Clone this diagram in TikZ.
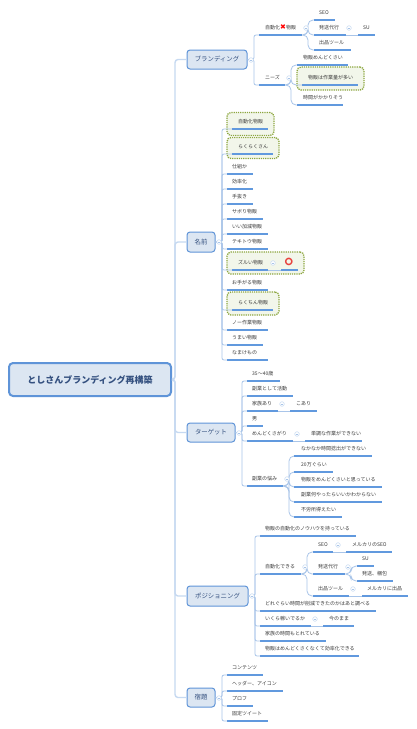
\documentclass[tikz,border=0pt]{standalone}
\usepackage{fontspec}
\setmainfont{Noto Sans CJK JP}
\newfontfamily\emojifont{Noto Emoji}
\newfontfamily\symfont{DejaVu Sans}
\usetikzlibrary{calc}
\definecolor{linkpale}{HTML}{C6D9F1}
\definecolor{linkmid}{HTML}{A9C5E9}
\definecolor{under}{HTML}{6199DE}
\definecolor{boxfill}{HTML}{DCE6F2}
\definecolor{boxline}{HTML}{5F94D8}
\definecolor{titlecol}{HTML}{34507F}
\definecolor{txt}{HTML}{3A3A3A}
\definecolor{hlfill}{HTML}{F2F6EA}
\definecolor{hlline}{HTML}{8CA63E}
\definecolor{ringred}{HTML}{E8433F}
\tikzset{
  x=1pt,y=-1pt,
  rootbox/.style={draw=boxline,fill=boxfill,line width=2pt,rounded corners=4pt,inner sep=0pt,
    font=\fontsize{9}{11}\selectfont\bfseries,text=titlecol},
  branchbox/.style={draw=boxline,fill=boxfill,line width=1pt,rounded corners=3pt,inner sep=0pt,
    font=\fontsize{6.4}{8}\selectfont,text=titlecol},
  leafitem/.style={inner sep=0pt,anchor=south west,minimum height=15pt,
    font=\fontsize{5}{6}\selectfont,text=txt},
  hlbox/.style={draw=hlline,fill=hlfill,line width=1.3pt,dash pattern=on 1.2pt off 1pt,
    rounded corners=4pt,inner sep=0pt},
  trunklink/.style={draw=linkpale,line width=1.4pt,rounded corners=3pt},
  forklink/.style={draw=linkmid,line width=.8pt,rounded corners=2pt},
  sublink/.style={draw=linkmid,line width=.8pt,rounded corners=5pt},
  itemline/.style={draw=under,line width=1.3pt},
  collapsemark/.style={circle,draw=linkpale,fill=white,line width=.5pt,minimum size=4.6pt,inner sep=0pt,
    path picture={\draw[linkmid,line width=.4pt] ([xshift=-1.3pt]path picture bounding box.center) -- ([xshift=1.3pt]path picture bounding box.center);}},
}
% name, x0, x1, yline, text inset, text
\newcommand{\leaf}[6]{%
  \pgfmathsetlengthmacro{\lw}{(#3-#2)*1pt}%
  \node[leafitem,text width=\lw] (#1) at (#2,#4) {\hspace*{#5pt}\mbox{#6}};
  \draw[itemline] (#1.south west) -- (#1.south east);
}
% link from a box to an item, vertical at x
\newcommand{\blink}[3]{\coordinate (vv) at (#2,0);\draw[forklink] (#1.east) -- (#1.east -| vv) |- (#3.south west);}
% link from an underlined item to an item
\newcommand{\slink}[3]{\coordinate (vv) at (#2,0);\draw[sublink] (#1.south east) -- (#1.south east -| vv) |- (#3.south west);}
\newcommand{\cmark}[3]{\node[collapsemark] (#1) at (#2,#3) {};}
\newcommand{\lowtext}[1]{\raisebox{-2.7pt}{#1}}
\begin{document}
\begin{tikzpicture}
\useasboundingbox (0,0) rectangle (417,729);
\fill[white] (0,0) rectangle (417,729);
% highlight boxes
\node[hlbox,minimum width=67pt,minimum height=23pt] (h1) at (330.5,78.5) {};
\node[hlbox,minimum width=47pt,minimum height=23pt] (h2) at (250.5,124) {};
\node[hlbox,minimum width=52pt,minimum height=21pt] (h3) at (253,148) {};
\node[hlbox,minimum width=77pt,minimum height=22pt] (h4) at (265.5,263) {};
\node[hlbox,minimum width=52pt,minimum height=23pt] (h5) at (253,303.5) {};
% root and branches
\node[rootbox,minimum width=162pt,minimum height=33pt] (root) at (90,379.5) {としさんブランディング再構築};
\node[branchbox,minimum width=60pt,minimum height=19pt] (b1) at (217,59.5) {ブランディング};
\node[branchbox,minimum width=28pt,minimum height=20pt] (b2) at (201,242) {名前};
\node[branchbox,minimum width=48pt,minimum height=19pt] (b3) at (211,432.5) {ターゲット};
\node[branchbox,minimum width=61pt,minimum height=20pt] (b4) at (217.5,596) {ポジショニング};
\node[branchbox,minimum width=28pt,minimum height=19pt] (b5) at (201,697.5) {宿題};
\coordinate (tr) at (175,0);
\draw[trunklink] (root.east) -- (root.east -| tr) |- (b1.west);
\draw[trunklink] (root.east) -- (root.east -| tr) |- (b2.west);
\draw[trunklink] (root.east) -- (root.east -| tr) |- (b3.west);
\draw[trunklink] (root.east) -- (root.east -| tr) |- (b4.west);
\draw[trunklink] (root.east) -- (root.east -| tr) |- (b5.west);
% branch 1
\leaf{a1}{259}{302}{35}{6}{自動化{\color{red}\raisebox{-.3pt}{\fontsize{7}{7}\selectfont\symfont ✖}}物販}
\leaf{a2}{259}{285}{85}{6}{ニーズ}
\leaf{a3}{314}{335}{20}{5}{\lowtext{SEO}}
\leaf{a4}{314}{346}{35}{5}{発送代行}
\leaf{a5}{314}{351}{50}{5}{出品ツール}
\leaf{a6}{358}{375}{35}{5}{\lowtext{SU}}
\leaf{a7}{297}{348}{65}{6}{物販めんどくさい}
\leaf{a8}{302}{358}{85}{6}{物販は作業量が多い}
\leaf{a9}{297}{343}{105}{6}{時間がかかりそう}
\blink{b1}{254}{a1}
\blink{b1}{254}{a2}
\slink{a1}{308}{a3}
\slink{a1}{308}{a4}
\slink{a1}{308}{a5}
\draw[forklink] (a4.south east) -- (a6.south west);
\slink{a2}{291}{a7}
\slink{a2}{291}{a8}
\slink{a2}{291}{a9}
% branch 2
\leaf{c1}{232}{268}{129}{6}{自動化物販}
\leaf{c2}{232}{273}{154}{6}{らくらくさん}
\leaf{c3}{227}{253}{174}{5}{仕組か}
\leaf{c4}{227}{253}{189}{5}{効率化}
\leaf{c5}{227}{253}{204}{5}{手抜き}
\leaf{c6}{227}{263}{219}{5}{サボり物販}
\leaf{c7}{227}{268}{234}{5}{いい加減物販}
\leaf{c8}{227}{268}{249}{5}{テキトウ物販}
\leaf{c9}{232}{268}{270}{6}{ズルい物販}
\leaf{c10}{281}{298}{270}{3}{\raisebox{-1.5pt}{\color{ringred}\fontsize{7.5}{8}\selectfont\emojifont ⭕}}
\leaf{c11}{227}{268}{290}{5}{お手がる物販}
\leaf{c12}{232}{273}{310}{6}{らくちん物販}
\leaf{c13}{227}{268}{330}{5}{ノー作業物販}
\leaf{c14}{227}{263}{345}{5}{うまい物販}
\leaf{c15}{227}{268}{360}{5}{なまけもの}
\foreach \k in {1,...,9,11,12,13,14,15}{\blink{b2}{222}{c\k}}
\draw[forklink] (c9.south east) -- (c10.south west);
% branch 3
\leaf{d1}{247}{280}{381}{5}{35〜40歳}
\leaf{d2}{247}{293}{396}{5}{副業として活動}
\leaf{d3}{247}{278}{411}{5}{家族あり}
\leaf{d4}{247}{263}{426}{5}{男}
\leaf{d5}{247}{293}{441}{5}{めんどくさがり}
\leaf{d6}{247}{283}{486}{5}{副業の悩み}
\leaf{d7}{290}{317}{411}{6}{こあり}
\leaf{d8}{305}{362}{441}{6}{単調な作業ができない}
\leaf{d9}{294}{372}{456}{7}{なかなか時間捻出ができない}
\leaf{d10}{294}{333}{472}{7}{20万ぐらい}
\leaf{d11}{294}{382}{487}{7}{物販をめんどくさいと思っている}
\leaf{d12}{294}{382}{502}{7}{副業何やったらいいかわからない}
\leaf{d13}{294}{342}{517}{7}{不労所得えたい}
\foreach \k in {1,...,6}{\blink{b3}{242}{d\k}}
\draw[forklink] (d3.south east) -- (d7.south west);
\draw[forklink] (d5.south east) -- (d8.south west);
\foreach \k in {9,...,13}{\slink{d6}{289}{d\k}}
% branch 4
\leaf{e1}{260}{356}{536}{5}{物販の自動化のノウハウを持っている}
\leaf{e2}{260}{301}{574}{5}{自動化できる}
\leaf{e3}{260}{376}{611}{5}{どれぐらい時間が削減できたのかはあと調べる}
\leaf{e4}{260}{311}{626}{5}{いくら稼いでるか}
\leaf{e5}{260}{326}{641}{5}{家族の時間もとれている}
\leaf{e6}{260}{359}{656}{5}{物販はめんどくさくなくて効率化できる}
\leaf{e7}{313}{333}{552}{5}{\lowtext{SEO}}
\leaf{e8}{313}{345}{574}{5}{発送代行}
\leaf{e9}{313}{349}{596}{5}{出品ツール}
\leaf{e10}{346}{392}{552}{6}{メルカリのSEO}
\leaf{e11}{357}{374}{566}{5}{\lowtext{SU}}
\leaf{e12}{357}{393}{581}{5}{発送、梱包}
\leaf{e13}{362}{408}{596}{5}{メルカリに出品}
\leaf{e14}{323}{354}{626}{6}{今のまま}
\foreach \k in {1,...,6}{\blink{b4}{255}{e\k}}
\foreach \k in {7,8,9}{\slink{e2}{307}{e\k}}
\draw[forklink] (e7.south east) -- (e10.south west);
\slink{e8}{351}{e11}
\slink{e8}{351}{e12}
\draw[forklink] (e9.south east) -- (e13.south west);
\draw[forklink] (e4.south east) -- (e14.south west);
% branch 5
\leaf{f1}{227}{263}{675}{5}{コンテンツ}
\leaf{f2}{227}{283}{691}{5}{ヘッダー、アイコン}
\leaf{f3}{227}{253}{706}{5}{プロフ}
\leaf{f4}{227}{268}{721}{5}{固定ツイート}
\foreach \k in {1,...,4}{\blink{b5}{222}{f\k}}
% collapse marks
\cmark{m1}{251}{60}
\cmark{m2}{219}{242}
\cmark{m3}{239}{433}
\cmark{m4}{252}{596}
\cmark{m5}{219}{698}
\cmark{m6}{306}{28}
\cmark{m7}{349}{28}
\cmark{m8}{289}{78}
\cmark{m9}{273}{263}
\cmark{m10}{282}{404}
\cmark{m11}{297}{434}
\cmark{m12}{287}{479}
\cmark{m13}{305}{567}
\cmark{m14}{338}{545}
\cmark{m15}{348}{567}
\cmark{m16}{353}{589}
\cmark{m17}{315}{619}
\end{tikzpicture}
\end{document}
